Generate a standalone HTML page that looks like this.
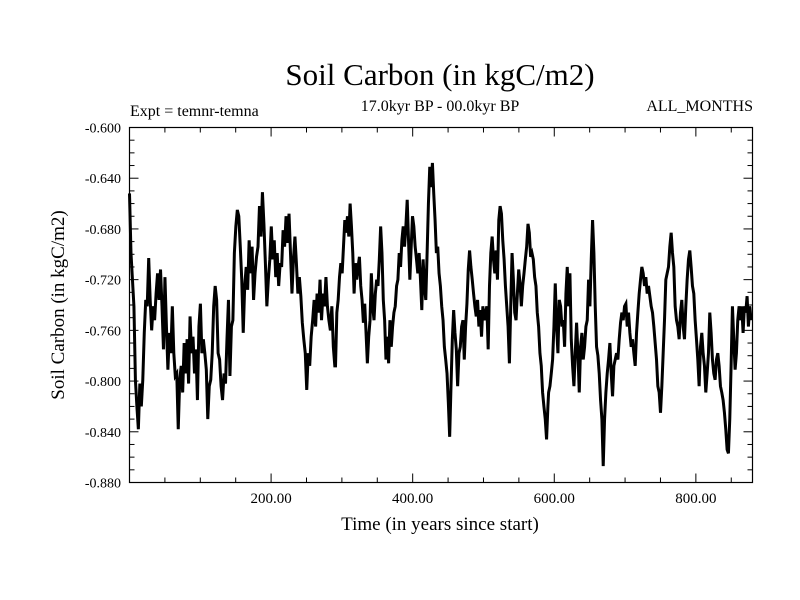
<!DOCTYPE html>
<html><head><meta charset="utf-8"><style>
html,body{margin:0;padding:0;background:#fff;}
svg{display:block;font-family:"Liberation Serif",serif;}
</style></head><body>
<svg id="chart" width="800" height="600">
<text x="440" y="85" text-anchor="middle" font-size="31">Soil Carbon (in kgC/m2)</text>
<text x="440" y="111" text-anchor="middle" font-size="16">17.0kyr BP - 00.0kyr BP</text>
<text x="130" y="116" font-size="16">Expt = temnr-temna</text>
<text x="753" y="111" text-anchor="end" font-size="16">ALL_MONTHS</text>
<text transform="translate(64,305) rotate(-90)" text-anchor="middle" font-size="19">Soil Carbon (in kgC/m2)</text>
<text x="440" y="530" text-anchor="middle" font-size="19">Time (in years since start)</text>
<g id="axes"></g>
<g id="series"></g>
<rect x="129.5" y="127.5" width="623" height="355" fill="none" stroke="#000" stroke-width="1.2"/>
</svg>
<script>
const xTickValues = [200, 400, 600, 800];
const xTickLabels = ["200.00", "400.00", "600.00", "800.00"];
const yTickValues = [-0.60, -0.64, -0.68, -0.72, -0.76, -0.80, -0.84, -0.88];
const yTickLabels = ["-0.600", "-0.640", "-0.680", "-0.720", "-0.760", "-0.800", "-0.840", "-0.880"];
const segmentYears = [[0, 290], [291, 591], [592, 878]];
const valuesSeg1 = [
-0.652,-0.699,-0.720,-0.741,-0.799,-0.820,-0.838,-0.802,-0.820,-0.799,-0.762,-0.736,-0.741,-0.703,-0.736,-0.760,-0.741,-0.752,-0.731,-0.715,-0.736,-0.712,-0.741,-0.775,-0.718,-0.757,-0.791,-0.762,-0.778,-0.741,-0.778,-0.796,-0.794,-0.838,-0.799,-0.788,-0.809,-0.770,-0.794,-0.767,-0.802,-0.749,-0.778,-0.765,-0.794,-0.775,-0.815,-0.757,-0.739,-0.778,-0.767,-0.778,-0.791,-0.830,-0.804,-0.799,-0.778,-0.741,-0.725,-0.736,-0.778,-0.783,-0.804,-0.815,-0.794,-0.802,-0.767,-0.736,-0.796,-0.757,-0.752,-0.699,-0.678,-0.665,-0.670,-0.694,-0.720,-0.762,-0.725,-0.710,-0.728,-0.689,-0.715,-0.694,-0.736,-0.715,-0.702,-0.694,-0.662,-0.686,-0.651,-0.676,-0.707,-0.741,-0.720,-0.704,-0.678,-0.704,-0.689,-0.718,-0.699,-0.725,-0.707,-0.710,-0.681,-0.694,-0.670,-0.691,-0.668,-0.699,-0.731,-0.704,-0.686,-0.707,-0.731,-0.718,-0.733,-0.754,-0.767,-0.778,-0.807,-0.778,-0.788,-0.765,-0.752,-0.736,-0.757,-0.731,-0.746,-0.720,-0.752,-0.731,-0.741,-0.718,-0.741,-0.752,-0.760,-0.741,-0.773,-0.788
];
const valuesSeg2 = [
-0.788,-0.746,-0.736,-0.718,-0.707,-0.715,-0.694,-0.673,-0.683,-0.670,-0.686,-0.660,-0.678,-0.699,-0.731,-0.707,-0.720,-0.710,-0.702,-0.725,-0.736,-0.754,-0.739,-0.762,-0.786,-0.765,-0.752,-0.715,-0.741,-0.752,-0.731,-0.720,-0.725,-0.704,-0.678,-0.699,-0.736,-0.752,-0.783,-0.765,-0.786,-0.752,-0.773,-0.757,-0.746,-0.741,-0.725,-0.720,-0.699,-0.710,-0.689,-0.678,-0.694,-0.678,-0.657,-0.689,-0.720,-0.694,-0.670,-0.678,-0.694,-0.704,-0.715,-0.699,-0.720,-0.744,-0.704,-0.725,-0.736,-0.699,-0.660,-0.631,-0.647,-0.628,-0.652,-0.673,-0.699,-0.694,-0.715,-0.725,-0.741,-0.752,-0.773,-0.783,-0.794,-0.817,-0.844,-0.804,-0.767,-0.744,-0.762,-0.775,-0.804,-0.778,-0.773,-0.757,-0.752,-0.783,-0.757,-0.739,-0.712,-0.697,-0.710,-0.720,-0.731,-0.741,-0.749,-0.736,-0.757,-0.744,-0.765,-0.741,-0.752,-0.746,-0.741,-0.775,-0.725,-0.699,-0.686,-0.704,-0.715,-0.697,-0.720,-0.673,-0.662,-0.668,-0.689,-0.704,-0.725,-0.741,-0.757,-0.786,-0.741,-0.699,-0.720,-0.746,-0.752,-0.731,-0.712,-0.723,-0.741,-0.725,-0.715,-0.704,-0.694,-0.676,-0.683,-0.702,-0.699,-0.704,-0.718,-0.725,-0.746,-0.757,-0.778,-0.788,-0.809,-0.820,-0.830,-0.846,-0.820
];
const valuesSeg3 = [
-0.809,-0.804,-0.794,-0.783,-0.757,-0.723,-0.757,-0.778,-0.736,-0.741,-0.757,-0.752,-0.773,-0.731,-0.710,-0.741,-0.715,-0.767,-0.788,-0.804,-0.778,-0.754,-0.778,-0.809,-0.773,-0.762,-0.783,-0.773,-0.757,-0.752,-0.720,-0.741,-0.704,-0.673,-0.699,-0.741,-0.773,-0.780,-0.794,-0.815,-0.830,-0.867,-0.830,-0.809,-0.794,-0.783,-0.770,-0.794,-0.812,-0.788,-0.783,-0.778,-0.783,-0.767,-0.754,-0.746,-0.752,-0.741,-0.739,-0.757,-0.746,-0.762,-0.773,-0.767,-0.778,-0.788,-0.762,-0.746,-0.731,-0.720,-0.710,-0.715,-0.725,-0.718,-0.731,-0.725,-0.733,-0.741,-0.746,-0.757,-0.770,-0.783,-0.804,-0.809,-0.825,-0.804,-0.778,-0.752,-0.720,-0.715,-0.710,-0.694,-0.683,-0.699,-0.710,-0.741,-0.752,-0.757,-0.767,-0.746,-0.736,-0.757,-0.767,-0.741,-0.720,-0.704,-0.697,-0.710,-0.725,-0.731,-0.752,-0.767,-0.783,-0.804,-0.773,-0.762,-0.778,-0.788,-0.809,-0.794,-0.778,-0.746,-0.762,-0.783,-0.794,-0.799,-0.783,-0.778,-0.788,-0.804,-0.809,-0.815,-0.825,-0.838,-0.854,-0.857,-0.830,-0.788,-0.741,-0.767,-0.791,-0.778,-0.752,-0.741,-0.752,-0.741,-0.762,-0.741,-0.746,-0.733,-0.757,-0.741,-0.752
];
const segments = [valuesSeg1, valuesSeg2, valuesSeg3];

const NS = "http://www.w3.org/2000/svg";
const L = 129.5, R = 752.5, T = 127.5, B = 482.5;
const xMin = 0, xMax = 880, yMax = -0.60, yMin = -0.88;
function xScale(v){ return L + (v - xMin) / (xMax - xMin) * (R - L); }
function yScale(v){ return T + (yMax - v) / (yMax - yMin) * (B - T); }

const axes = document.getElementById('axes');
function line(x1,y1,x2,y2,name){
  const l = document.createElementNS(NS,'line');
  l.setAttribute('x1',x1); l.setAttribute('y1',y1); l.setAttribute('x2',x2); l.setAttribute('y2',y2);
  l.setAttribute('stroke','#000'); l.setAttribute('stroke-width','1');
  
  
  axes.appendChild(l);
}
for (let k = 0; k <= 28; k++) {
  const v = yMax - k * 0.01;
  const y = yScale(v);
  const len = (k % 4 === 0) ? 9 : 5;
  line(L, y, L + len, y, 'y-tick');
  line(R, y, R - len, y, 'y-tick-right');
}
for (let v = 50; v < xMax; v += 50) {
  const x = xScale(v);
  const len = (v % 200 === 0) ? 9 : 5;
  line(x, B, x, B - len, 'x-tick');
  line(x, T, x, T + len, 'x-tick-top');
}
yTickValues.forEach((v, i) => {
  const t = document.createElementNS(NS,'text');
  t.setAttribute('x', 121); t.setAttribute('y', yScale(v) + 5);
  t.setAttribute('text-anchor','end'); t.setAttribute('font-size','14');
  t.textContent = yTickLabels[i];
  
  
  axes.appendChild(t);
});
xTickValues.forEach((v, i) => {
  const t = document.createElementNS(NS,'text');
  t.setAttribute('x', xScale(v)); t.setAttribute('y', 503);
  t.setAttribute('text-anchor','middle'); t.setAttribute('font-size','15');
  t.textContent = xTickLabels[i];
  
  
  axes.appendChild(t);
});

const pts = [];
segments.forEach((vals, s) => {
  const [y0, y1] = segmentYears[s];
  const n = vals.length;
  vals.forEach((v, i) => {
    const yr = y0 + (y1 - y0) * i / (n - 1);
    pts.push(xScale(yr).toFixed(2) + ',' + yScale(v).toFixed(2));
  });
});
const path = document.createElementNS(NS,'polyline');
path.setAttribute('points', pts.join(' '));
path.setAttribute('fill','none');
path.setAttribute('stroke','#000');
path.setAttribute('stroke-width','3');


document.getElementById('series').appendChild(path);
</script>
</body></html>
